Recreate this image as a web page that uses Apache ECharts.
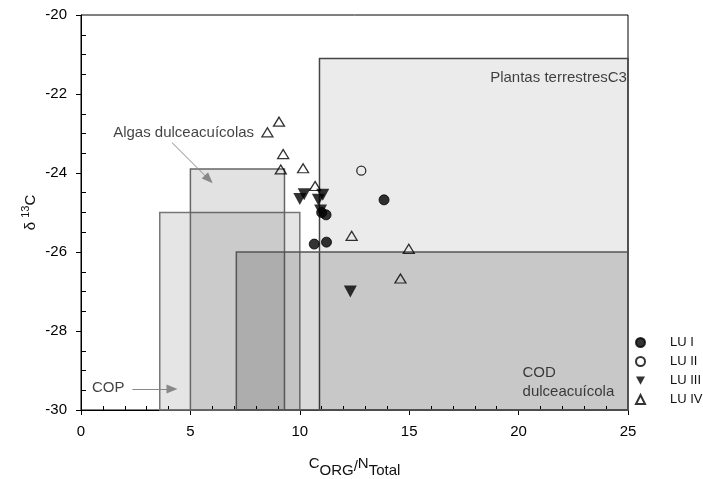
<!DOCTYPE html>
<html>
<head>
<meta charset="utf-8">
<script src="https://cdn.jsdelivr.net/npm/echarts@6/dist/echarts.min.js"></script>
<style>html,body{margin:0;padding:0;background:#fff}#c{width:703px;height:479px}</style>
</head>
<body>
<div id="c"></div>
<script>
// ---- data ----
const luI   = [[13.85,-24.68],[11.0,-25.0],[11.2,-25.06],[11.22,-25.75],[10.66,-25.8]];
const luII  = [[12.81,-23.94]];
const luIII = [[10.0,-24.66],[10.2,-24.54],[10.85,-24.68],[11.05,-24.55],[10.95,-24.95],[12.31,-27.0]];
const luIV  = [[9.05,-22.70],[8.52,-22.97],[9.24,-23.52],[9.13,-23.91],[10.15,-23.88],[10.70,-24.33],[12.37,-25.59],[14.98,-25.92],[14.60,-26.67]];

// source boxes: name, xMin, xMax, yMin, yMax
const boxNames = ['Plantas terrestresC3','COP','Algas dulceacuícolas','COD dulceacuícola'];
const boxXMin  = [10.9, 3.6, 5.0, 7.1];
const boxXMax  = [25.0, 10.0, 9.3, 25.0];
const boxYMin  = [-30, -30, -30, -30];
const boxYMax  = [-21.1, -25.0, -23.9, -26.0];

// annotation texts (data coordinates)
const annotTexts = ['Algas dulceacuícolas','COP','Plantas terrestresC3','COD\ndulceacuícola'];
const annotX     = [1.47, 0.5, 24.95, 20.18];
const annotY     = [-22.99, -29.45, -21.6, -29.3];
// arrows: [x0,y0,x1,y1]
const arrows = [[4.16,-23.23,5.84,-24.16],[2.35,-29.47,4.16,-29.47]];

const xTicks = {min:0, max:25, interval:5};
const yTicks = {min:-30, max:-20, interval:2};

// ---- chart ----
const FONT = "'Liberation Sans', Arial, sans-serif";
const chart = echarts.init(document.getElementById('c'), null, {renderer:'canvas'});
const boxFill   = ['rgba(0,0,0,0.08)','rgba(0,0,0,0.10)','rgba(0,0,0,0.115)','rgba(0,0,0,0.15)'];
const boxStroke = ['#444','#777','#666','#555'];
const boxData = boxNames.map((n,i)=>({name:n, value:[boxXMin[i],boxXMax[i],boxYMin[i],boxYMax[i]]}));
const annotPos = ['right','right','left','right'];
const annotData = annotTexts.map((t,i)=>({value:[annotX[i],annotY[i]], label:{show:true, formatter:t, position:annotPos[i], distance:0}}));
const downTri = 'path://M0,0 L12,0 L6,11 Z';

chart.setOption({
  animation:false,
  textStyle:{fontFamily:FONT},
  grid:{left:81,right:75,top:15,bottom:69,show:true,borderColor:'#000',borderWidth:1,backgroundColor:'transparent',outerBoundsMode:'none'},
  xAxis:[{
    type:'value', min:xTicks.min, max:xTicks.max, interval:xTicks.interval,
    axisLine:{lineStyle:{color:'#000',width:1}}, splitLine:{show:false},
    axisTick:{show:true,inside:false,length:5,lineStyle:{color:'#000'}},
    axisLabel:{color:'#000',fontSize:15,margin:14,fontFamily:FONT},
    name:'{up|C}{dn|ORG}{sl|/}{up|N}{dn|Total}', nameLocation:'middle', nameGap:46, nameMoveOverlap:false,
    nameTextStyle:{color:'#111',fontFamily:FONT,rich:{
      up:{fontSize:15,lineHeight:15,verticalAlign:'top',fontFamily:FONT,color:'#111'},
      dn:{fontSize:15,lineHeight:15,verticalAlign:'bottom',fontFamily:FONT,color:'#111'},
      sl:{fontSize:15,lineHeight:22,fontFamily:FONT,color:'#111'}}}
  },{
    type:'value', min:xTicks.min, max:xTicks.max, interval:xTicks.interval, position:'bottom',
    axisLine:{show:false}, axisLabel:{show:false}, splitLine:{show:false},
    axisTick:{show:false,inside:true},
    minorTick:{show:true,splitNumber:5,length:4,lineStyle:{color:'#000'}}
  }],
  yAxis:[{
    type:'value', min:yTicks.min, max:yTicks.max, interval:yTicks.interval,
    axisLine:{show:true,lineStyle:{color:'#000',width:1}}, splitLine:{show:false},
    axisTick:{show:true,inside:false,length:5,lineStyle:{color:'#000'}},
    axisLabel:{color:'#000',fontSize:15,margin:14,fontFamily:FONT},
    name:'δ {sup|13}C', nameLocation:'middle', nameGap:39, nameMoveOverlap:false,
    nameTextStyle:{color:'#111',fontSize:15,lineHeight:22,fontFamily:FONT,rich:{
      sup:{fontSize:11,lineHeight:11,verticalAlign:'top',fontFamily:FONT,color:'#111'}}}
  },{
    type:'value', min:yTicks.min, max:yTicks.max, interval:yTicks.interval, position:'left',
    axisLine:{show:false}, axisLabel:{show:false}, splitLine:{show:false},
    axisTick:{show:false,inside:true},
    minorTick:{show:true,splitNumber:4,length:5,lineStyle:{color:'#000'}}
  }],
  legend:{
    orient:'vertical', left:630, top:331, itemWidth:9, itemHeight:9, itemGap:6,
    data:['LU I','LU II','LU III','LU IV'],
    textStyle:{fontSize:13,lineHeight:13,color:'#111',fontFamily:FONT,padding:[0,0,0,20]}
  },
  series:[
    {type:'custom', name:'boxes', z:1, silent:true,
     renderItem:function(params, api){
       const i = params.dataIndex;
       const p0 = api.coord([api.value(0), api.value(3)]);
       const p1 = api.coord([api.value(1), api.value(2)]);
       return {type:'rect', shape:{x:p0[0], y:p0[1], width:p1[0]-p0[0], height:p1[1]-p0[1]},
               style:{fill:boxFill[i], stroke:boxStroke[i], lineWidth:1.5}};
     },
     encode:{x:[0,1], y:[2,3]}, data:boxData},
    {type:'scatter', name:'annot', z:2, silent:true, symbolSize:0, data:annotData,
     label:{show:true,fontSize:15,lineHeight:19,color:'#111',fontFamily:FONT},
     markLine:{silent:true, symbol:['none','triangle'], symbolSize:[9,11], label:{show:false},
       lineStyle:{color:'#888',width:1,type:'solid'},
       data:arrows.map(a=>[{coord:[a[0],a[1]]},{coord:[a[2],a[3]]}])}},
    {type:'scatter', name:'LU I', z:5, symbol:'circle', symbolSize:10, data:luI,
     itemStyle:{color:'#000',borderColor:'#000',borderWidth:1}},
    {type:'scatter', name:'LU II', z:5, symbol:'circle', symbolSize:9, data:luII,
     itemStyle:{color:'rgba(0,0,0,0)',borderColor:'#000',borderWidth:1.3}},
    {type:'scatter', name:'LU III', z:5, symbol:downTri, symbolSize:[13,12], data:luIII,
     itemStyle:{color:'#000',borderColor:'#000',borderWidth:0}},
    {type:'scatter', name:'LU IV', z:5, symbol:'triangle', symbolSize:[11,9], data:luIV,
     itemStyle:{color:'rgba(0,0,0,0)',borderColor:'#000',borderWidth:1.3}}
  ]
});
</script>
</body>
</html>
